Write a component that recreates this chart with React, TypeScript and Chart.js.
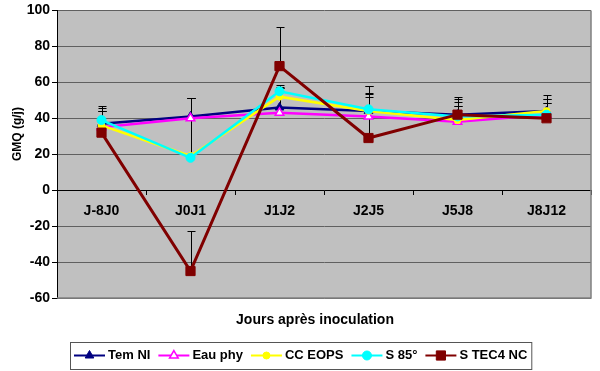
import React, { useEffect, useRef } from 'react';
import { Chart, registerables } from 'chart.js';

Chart.register(...registerables);

const categories = ['J-8J0', 'J0J1', 'J1J2', 'J2J5', 'J5J8', 'J8J12'];
const seriesNames = ['Tem NI', 'Eau phy', 'CC EOPS', 'S 85°', 'S TEC4 NC'];

const temNI = [37, 41, 46, 44, 42, 44];
const eauPhy = [35, 40, 43, 41, 38, 42];
const ccEops = [36, 19, 52, 44, 39, 44];
const s85 = [39, 18, 55, 45, 41, 42];
const sTec4 = [32, -45, 69, 29, 42, 40];

// upper error-bar amounts (plus only)
const errTemNI = [10, 10, 11, 14, 10, 9];
const errEauPhy = [10.5, 11, 14, 13, 12.5, 8.5];
const errCcEops = [8, 32, 5.5, 8, 10, 4.5];
const errS85 = [5, 33, 3.5, 8.5, 6, 6.5];
const errSTec4 = [12, 22, 22, 29, 5, 10.5];

const yMin = -60;
const yMax = 100;
const yStep = 20;

const xTitle = 'Jours après inoculation';
const yTitle = 'GMQ (g/j)';

const FONT = '"Liberation Sans", Arial, sans-serif';

const seriesValues = [temNI, eauPhy, ccEops, s85, sTec4];
const seriesErrors = [errTemNI, errEauPhy, errCcEops, errS85, errSTec4];
const seriesStyles = [
  { color: '#000080', bg: '#000080', pointStyle: 'triangle', radius: 5, lw: 2.5, pbw: 1 },
  { color: '#FF00FF', bg: '#FFFFFF', pointStyle: 'triangle', radius: 5, lw: 2.5, pbw: 1.5 },
  { color: '#FFFF00', bg: '#FFFF00', pointStyle: 'circle', radius: 3.5, lw: 2.5, pbw: 1 },
  { color: '#00FFFF', bg: '#00FFFF', pointStyle: 'circle', radius: 4.5, lw: 2.5, pbw: 1 },
  { color: '#800000', bg: '#800000', pointStyle: 'rect', radius: 6.5, lw: 3, pbw: 1 },
];

function drawMarker(ctx: CanvasRenderingContext2D, style: string, x: number, y: number, r: number, fill: string, stroke: string, bw: number) {
  ctx.save();
  ctx.beginPath();
  if (style === 'triangle') {
    ctx.moveTo(x, y - r);
    ctx.lineTo(x + r * 0.866, y + r * 0.5);
    ctx.lineTo(x - r * 0.866, y + r * 0.5);
    ctx.closePath();
  } else if (style === 'rect') {
    const s = r * Math.SQRT1_2;
    ctx.rect(x - s, y - s, 2 * s, 2 * s);
  } else {
    ctx.arc(x, y, r, 0, Math.PI * 2);
  }
  ctx.fillStyle = fill;
  ctx.fill();
  ctx.lineWidth = bw;
  ctx.strokeStyle = stroke;
  ctx.stroke();
  ctx.restore();
}

const decorPlugin = {
  id: 'decor',
  beforeDraw(chart: any) {
    const { ctx, chartArea: a } = chart;
    ctx.save();
    ctx.fillStyle = '#FFFFFF';
    ctx.fillRect(0, 0, chart.width, chart.height);
    ctx.fillStyle = '#C0C0C0';
    ctx.fillRect(a.left, a.top, a.right - a.left, a.bottom - a.top);
    ctx.restore();
  },
  beforeDatasetsDraw(chart: any) {
    const { ctx, chartArea: a } = chart;
    ctx.save();
    ctx.strokeStyle = '#808080';
    ctx.lineWidth = 1.5;
    ctx.beginPath();
    ctx.moveTo(a.left, a.bottom);
    ctx.lineTo(a.right, a.bottom);
    ctx.lineTo(a.right, a.top);
    ctx.stroke();
    // error bars (under markers)
    const yScale = chart.scales.y;
    ctx.strokeStyle = '#000000';
    ctx.lineWidth = 1;
    seriesValues.forEach((vals, i) => {
      const meta = chart.getDatasetMeta(i);
      vals.forEach((v, j) => {
        const pt = meta.data[j];
        const yTop = yScale.getPixelForValue(v + seriesErrors[i][j]);
        const x = Math.round(pt.x) + 0.5;
        const yTopR = Math.round(yTop) + 0.5;
        ctx.beginPath();
        ctx.moveTo(x, pt.y);
        ctx.lineTo(x, yTopR);
        ctx.moveTo(x - 4, yTopR);
        ctx.lineTo(x + 4, yTopR);
        ctx.stroke();
      });
    });
    ctx.restore();
  },
  afterDraw(chart: any) {
    const { ctx, chartArea: a } = chart;
    ctx.save();
    // x title
    ctx.fillStyle = '#000';
    ctx.font = `bold 14px ${FONT}`;
    ctx.textAlign = 'center';
    ctx.textBaseline = 'middle';
    ctx.fillText(xTitle, (a.left + a.right) / 2 - 9, a.bottom + 22);
    // y title
    ctx.save();
    ctx.translate(18, a.top + (a.bottom - a.top) * 0.43);
    ctx.rotate(-Math.PI / 2);
    ctx.font = `bold 12px ${FONT}`;
    ctx.fillText(yTitle, 0, 0);
    ctx.restore();
    // legend
    ctx.font = `bold 13px ${FONT}`;
    const lineLen = 31;
    const gapLT = 3;
    const gapItem = 8;
    const pad = 4;
    const widths = seriesNames.map((n) => ctx.measureText(n).width);
    const total = pad * 2 + widths.reduce((s, w) => s + w + lineLen + gapLT, 0) + gapItem * (seriesNames.length - 1);
    const boxH = 27;
    const boxTop = chart.height - 2 - boxH;
    const boxLeft = Math.round((a.left + a.right) / 2 - 23 - total / 2);
    ctx.fillStyle = '#FFFFFF';
    ctx.fillRect(boxLeft, boxTop, total, boxH);
    ctx.strokeStyle = '#555555';
    ctx.lineWidth = 1;
    ctx.strokeRect(boxLeft + 0.5, boxTop + 0.5, total, boxH);
    const cy = boxTop + boxH / 2;
    let x = boxLeft + pad;
    seriesNames.forEach((name, i) => {
      const st = seriesStyles[i];
      ctx.strokeStyle = st.color;
      ctx.lineWidth = 2;
      ctx.beginPath();
      ctx.moveTo(x, cy);
      ctx.lineTo(x + lineLen, cy);
      ctx.stroke();
      drawMarker(ctx, st.pointStyle, x + lineLen / 2, cy, st.radius, st.bg, st.color, st.pbw);
      x += lineLen + gapLT;
      ctx.fillStyle = '#000';
      ctx.textAlign = 'left';
      ctx.textBaseline = 'middle';
      ctx.fillText(name, x, cy);
      x += widths[i] + gapItem;
    });
    ctx.restore();
  },
};

export default function App() {
  const ref = useRef<HTMLCanvasElement | null>(null);
  useEffect(() => {
    if (!ref.current) return;
    const chart = new Chart(ref.current, {
      type: 'line',
      data: {
        labels: categories,
        datasets: seriesNames.map((name, i) => ({
          label: name,
          data: seriesValues[i],
          borderColor: seriesStyles[i].color,
          backgroundColor: seriesStyles[i].bg,
          borderWidth: seriesStyles[i].lw,
          pointStyle: seriesStyles[i].pointStyle as any,
          pointRadius: seriesStyles[i].radius,
          pointBackgroundColor: seriesStyles[i].bg,
          pointBorderColor: seriesStyles[i].color,
          pointBorderWidth: seriesStyles[i].pbw,
          tension: 0,
          fill: false,
          order: seriesNames.length - i,
        })),
      },
      options: {
        responsive: false,
        animation: false,
        events: [],
        layout: { padding: { top: 10, right: 9, bottom: 73, left: 0 } },
        plugins: {
          legend: { display: false },
          tooltip: { enabled: false },
          title: { display: false },
        },
        scales: {
          x: {
            type: 'category',
            position: { y: 0 } as any,
            offset: true,
            grid: {
              display: true,
              drawOnChartArea: false,
              drawTicks: true,
              tickLength: 4,
              offset: true,
              color: '#000',
              tickColor: '#000',
            },
            border: { display: true, color: '#000', width: 1 },
            ticks: {
              color: '#000',
              font: { family: FONT, size: 14, weight: 'bold' },
              padding: 9,
              maxRotation: 0,
              autoSkip: false,
            },
          },
          y: {
            min: yMin,
            max: yMax,
            ticks: {
              stepSize: yStep,
              color: '#000',
              font: { family: FONT, size: 14, weight: 'bold' },
              padding: 2,
            },
            grid: { color: '#606060', lineWidth: 1, tickLength: 5, tickColor: '#000', drawTicks: true },
            border: { display: true, color: '#000', width: 1 },
            afterFit: (s: any) => {
              s.width = 57;
            },
          },
        },
      },
      plugins: [decorPlugin],
    });
    return () => chart.destroy();
  }, []);
  return (
    <canvas
      ref={ref}
      width={600}
      height={371}
      style={{ position: 'absolute', left: 0, top: 0, display: 'block' }}
    />
  );
}
